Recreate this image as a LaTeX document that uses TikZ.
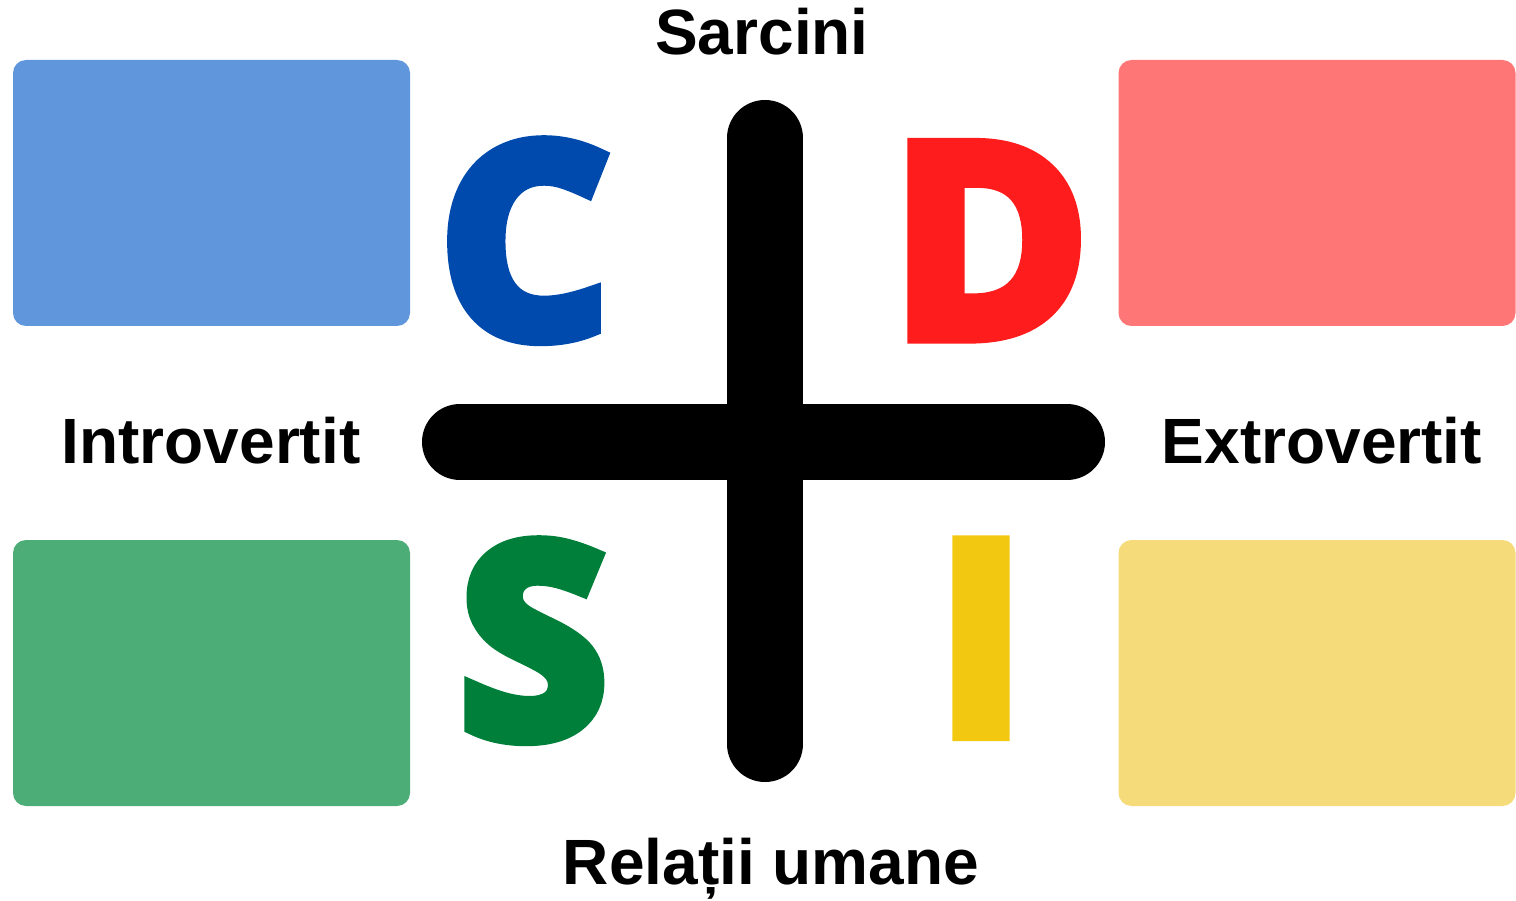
\documentclass[tikz,border=0pt]{standalone}
\usepackage{fontspec}
\newfontfamily\labelfont{Liberation Sans}
\newfontfamily\letterfont{Open Sans Bold}[FakeBold=6.5]
\definecolor{boxblue}{HTML}{6096DC}
\definecolor{boxred}{HTML}{FF7676}
\definecolor{boxgreen}{HTML}{4CAD77}
\definecolor{boxyellow}{HTML}{F5DB7A}
\definecolor{letblue}{HTML}{004AAD}
\definecolor{letred}{HTML}{FF1C1C}
\definecolor{letgreen}{HTML}{007F3A}
\definecolor{letyellow}{HTML}{F2C811}
\begin{document}
\begin{tikzpicture}[x=1pt,y=-1pt,
  quadbox/.style={draw=none, rounded corners=13pt, minimum width=397pt, minimum height=266pt, inner sep=0pt},
  biglet/.style={inner sep=0pt, anchor=base, font=\letterfont\fontsize{264}{264}\selectfont},
  axislabel/.style={inner sep=0pt, anchor=base, font=\labelfont\bfseries\fontsize{64}{64}\selectfont},
  crossbar/.style={line width=76pt, line cap=round, black}]
\useasboundingbox (0,0) rectangle (1516,901);
% quadrant boxes
\node[quadbox, fill=boxblue] (bc) at (211.5,193) {};
\node[quadbox, fill=boxred] (bd) at (1317,193) {};
\node[quadbox, fill=boxgreen] (bs) at (211.5,673) {};
\node[quadbox, fill=boxyellow] (bi) at (1317,673) {};
% cross
\coordinate (top) at (765,138);
\coordinate (bot) at (765,744);
\coordinate (lft) at (460,442);
\coordinate (rgt) at (1067,442);
\draw[crossbar] (top) -- (bot);
\draw[crossbar] (lft) -- (rgt);
% letters
\node[biglet, text=letblue] (lc) at (524.5,335) {C};
\node[biglet, text=letred] (ld) at (990,335) {D};
\node[biglet, text=letgreen] (ls) at (533.5,735) {S};
\node[biglet, text=letyellow] (li) at (981,732.5) {I};
% labels
\node[axislabel] (sarcini) at (762,55) {Sarcini};
\node[axislabel] (intro) at (211,463) {Introvertit};
\node[axislabel] (extro) at (1322,463) {Extrovertit};
\node[axislabel] (rel) at (771,884) {Relații umane};
\end{tikzpicture}
\end{document}
